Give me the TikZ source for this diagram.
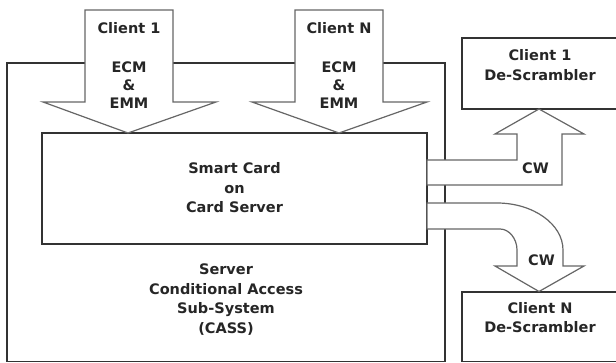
\documentclass[tikz,border=0pt]{standalone}
\usepackage{fontspec}
\setmainfont{DejaVu Sans}
\usepackage{tikz}
\usetikzlibrary{positioning}

\begin{document}
\begin{tikzpicture}[x=1pt, y=-1pt,
    box/.style={draw=black!80, line width=1.4pt, fill=white},
    blockarrow/.style={draw=black!60, line width=1.2pt, fill=white, line join=miter},
    txt/.style={align=center, inner sep=0pt, font=\fontsize{14.5}{19.5}\selectfont\bfseries, text=black!85},
    lbl/.style={txt, font=\fontsize{14.5}{18}\selectfont\bfseries}]
    \clip (0,0) rectangle (616,363);
    % server box and the two descramblers
    \draw [box] (7,63) rectangle (445,361.5);
    \draw [box] (462,38) rectangle (625,109);
    \draw [box] (462,292) rectangle (625,361.5);
    \node [box, minimum width=385pt, minimum height=111pt, inner sep=0pt] (card) at (234.5,188.5) {};
    \node [txt] (cardtxt) at (234.5,188) {Smart Card\\on\\Card Server};
    \node [txt] (cass) at (226,299.5) {Server\\Conditional Access\\Sub-System\\(CASS)};
    \node [txt] (desc1) at (540,65) {Client 1\\De-Scrambler};
    \node [txt] (descN) at (540,317.5) {Client N\\De-Scrambler};
    % ECM/EMM arrows into the card
    \draw [blockarrow] (85,10) -- (173,10) -- (173,102) -- (216,102) -- (128,133)
        -- (43,102) -- (85,102) -- cycle;
    \draw [blockarrow] (295,10) -- (383,10) -- (383,102) -- (427,102) -- (339,133)
        -- (252,102) -- (295,102) -- cycle;
    \node [lbl] (in1) at (129,65) {Client 1\\[21pt]ECM\\\&\\EMM};
    \node [lbl] (inN) at (339,65) {Client N\\[21pt]ECM\\\&\\EMM};
    % CW arrows out of the card
    \draw [blockarrow] (427,160) -- (517,160) -- (517,134) -- (495,134) -- (539,109)
        -- (584,134) -- (562,134) -- (562,185) -- (427,185) -- cycle;
    \draw [blockarrow] (427,203) -- (497,203) .. controls (533,203) and (563,224) .. (563,250)
        -- (563,266) -- (584,266) -- (539,291.5) -- (495,266) -- (517,266) -- (517,250)
        .. controls (517,238.5) and (509,229) .. (500,229) -- (427,229) -- cycle;
    \node [lbl] (cw1) at (535.5,168.5) {CW};
    \node [lbl] (cwN) at (541.5,260.5) {CW};
\end{tikzpicture}
\end{document}
